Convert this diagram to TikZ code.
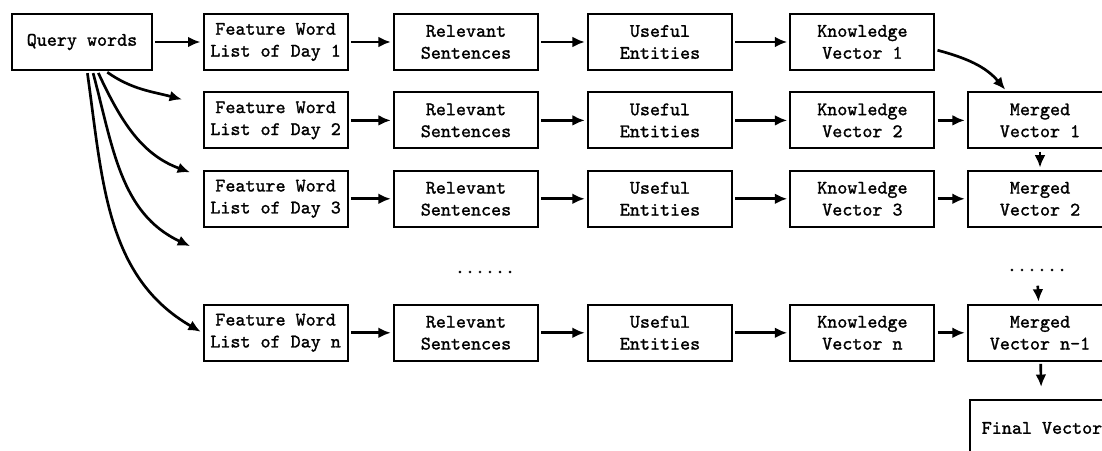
\documentclass[tikz,border=0pt]{standalone}
\usepackage{fontspec}
\newfontfamily\boxfont{lmmono10-regular.otf}[FakeBold=1.3]
\usepackage{tikz}
\usetikzlibrary{arrows.meta}
\tikzset{
    every node/.style={rectangle, draw, line width=1.5pt, fill=white, align=center, minimum width=3.6cm, minimum height=1.4cm, font=\boxfont\fontsize{13.6}{15.6}\selectfont}
}
\tikzset{gapdots/.style={draw=none, fill=none, minimum width=0cm, minimum height=0cm}}
\tikzset{fwd/.style={line width=1.9pt, -{Latex[length=3.1mm,width=2.7mm]}, shorten >=1.5pt, shorten <=1.5pt}}
\begin{document}
\begin{tikzpicture}
        \clip (0cm, 0cm) rectangle (27.55cm, 11.25cm);
        \node (q) [minimum width=3.5cm] at (2.050000cm, 10.200000cm) {Query words};
        \node (f1) at (6.890000cm, 10.200000cm) {Feature Word\\List of Day 1};
        \node (f2) at (6.890000cm, 8.240000cm) {Feature Word\\List of Day 2};
        \node (f3) at (6.890000cm, 6.280000cm) {Feature Word\\List of Day 3};
        \node (fn) at (6.890000cm, 2.930000cm) {Feature Word\\List of Day n};
        \node (r1) at (11.650000cm, 10.200000cm) {Relevant\\Sentences};
        \node (r2) at (11.650000cm, 8.240000cm) {Relevant\\Sentences};
        \node (r3) at (11.650000cm, 6.280000cm) {Relevant\\Sentences};
        \node (rn) at (11.650000cm, 2.930000cm) {Relevant\\Sentences};
        \node (u1) at (16.500000cm, 10.200000cm) {Useful\\Entities};
        \node (u2) at (16.500000cm, 8.240000cm) {Useful\\Entities};
        \node (u3) at (16.500000cm, 6.280000cm) {Useful\\Entities};
        \node (un) at (16.500000cm, 2.930000cm) {Useful\\Entities};
        \node (k1) at (21.560000cm, 10.200000cm) {Knowledge\\Vector 1};
        \node (k2) at (21.560000cm, 8.240000cm) {Knowledge\\Vector 2};
        \node (k3) at (21.560000cm, 6.280000cm) {Knowledge\\Vector 3};
        \node (kn) at (21.560000cm, 2.930000cm) {Knowledge\\Vector n};
        \node (m1) at (26.000000cm, 8.240000cm) {Merged\\Vector 1};
        \node (m2) at (26.000000cm, 6.280000cm) {Merged\\Vector 2};
        \node (mn) at (26.000000cm, 2.930000cm) {Merged\\Vector n-1};
        \node (fin) at (26.050000cm, 0.550000cm) {Final Vector};
        \node (d1) [gapdots] at (12.125000cm, 4.450000cm) {......};
        \node (d2) [gapdots] at (25.925000cm, 4.500000cm) {......};
        \coordinate (e2) at (4.600000cm, 8.750000cm);
        \coordinate (e3) at (4.800000cm, 6.925000cm);
        \coordinate (e4) at (4.800000cm, 5.075000cm);
        \draw (q) edge [fwd] (f1);
        \draw (q.-51) edge [fwd, out=-35, in=165] (e2);
        \draw (q.-62) edge [fwd, out=-65, in=160] (e3);
        \draw (q.-70) edge [fwd, out=-75, in=155] (e4);
        \draw (q.-80) edge [fwd, out=-82, in=150] (fn.west);
        \draw (f1) edge [fwd] (r1);
        \draw (r1) edge [fwd] (u1);
        \draw (u1) edge [fwd] (k1);
        \draw (f2) edge [fwd] (r2);
        \draw (r2) edge [fwd] (u2);
        \draw (u2) edge [fwd] (k2);
        \draw (k2) edge [fwd] (m1);
        \draw (f3) edge [fwd] (r3);
        \draw (r3) edge [fwd] (u3);
        \draw (u3) edge [fwd] (k3);
        \draw (k3) edge [fwd] (m2);
        \draw (fn) edge [fwd] (rn);
        \draw (rn) edge [fwd] (un);
        \draw (un) edge [fwd] (kn);
        \draw (kn) edge [fwd] (mn);
        \draw (k1.-6) edge [fwd, out=-15, in=130] (m1.139);
        \draw (m1) edge [fwd] (m2);
        \draw (d2) edge [fwd, shorten <=0.22cm] (mn);
        \draw (mn) edge [fwd, shorten >=0.3cm] (fin);
\end{tikzpicture}
\end{document}
